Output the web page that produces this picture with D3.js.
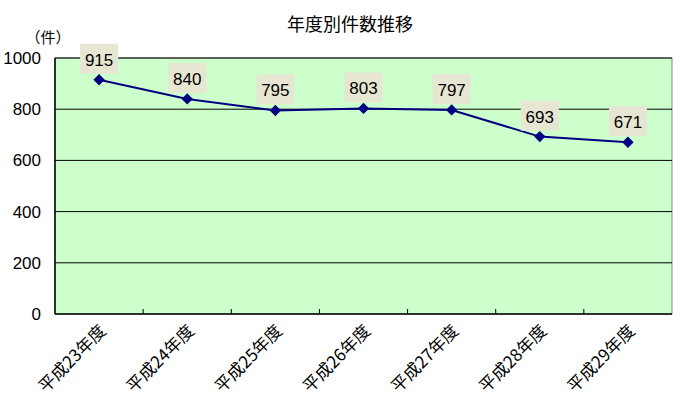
<!DOCTYPE html><html><head><meta charset="utf-8"><script src="https://cdn.jsdelivr.net/npm/d3@7"></script>
<style>body{margin:0;background:#fff}.cjk{font-family:"Noto Sans CJK JP",sans-serif}.num{font-family:"Liberation Sans",Arial,sans-serif}</style></head><body>
<svg id="c" width="700" height="416"></svg>
<script>
const categories=["平成23年度","平成24年度","平成25年度","平成26年度","平成27年度","平成28年度","平成29年度"];
const values=[915,840,795,803,797,693,671];
const yTicks=[0,200,400,600,800,1000];
const svg=d3.select("#c");
const L=55,R=672,T=58,B=314;
const x=d3.scaleBand().domain(categories).range([L,R]);
const y=d3.scaleLinear().domain([0,1000]).range([B,T]);
svg.append("rect").attr("x",L).attr("y",T).attr("width",R-L).attr("height",B-T).attr("fill","#ccffcc").attr("stroke","#888");
svg.selectAll(".g").data(yTicks.slice(1)).join("line").attr("x1",L).attr("x2",R).attr("y1",d=>y(d)).attr("y2",d=>y(d)).attr("stroke","#000").attr("stroke-width",1);
svg.append("line").attr("x1",L).attr("x2",L).attr("y1",T).attr("y2",B).attr("stroke","#000").attr("stroke-width",1.5);
svg.append("line").attr("x1",L).attr("x2",R).attr("y1",B).attr("y2",B).attr("stroke","#000").attr("stroke-width",1.5);
svg.selectAll(".yl").data(yTicks).join("text").attr("class","num").attr("x",L-14).attr("y",d=>y(d)+6).attr("text-anchor","end").attr("font-size",17).text(d=>d);
svg.selectAll(".xt").data(categories.slice(1)).join("line").attr("x1",d=>x(d)).attr("x2",d=>x(d)).attr("y1",B).attr("y2",B-5).attr("stroke","#000");
svg.selectAll(".xl").data(categories).join("text").attr("class","cjk").attr("font-size",17).attr("text-anchor","end")
 .attr("transform",d=>`translate(${x(d)+x.bandwidth()/2+8},${B+18}) rotate(-45)`).text(d=>d);
svg.append("text").attr("class","cjk").attr("x",48).attr("y",43).attr("text-anchor","middle").attr("font-size",15).text("（件）");
svg.append("text").attr("class","cjk").attr("x",350).attr("y",31).attr("text-anchor","middle").attr("font-size",18).text("年度別件数推移");
const cx=d=>x(d)+x.bandwidth()/2;
svg.append("path").datum(values).attr("fill","none").attr("stroke","#000080").attr("stroke-width",2)
 .attr("d",d3.line().x((v,i)=>cx(categories[i])).y(v=>y(v)));
svg.selectAll(".m").data(values).join("rect").attr("x",-4).attr("y",-4).attr("width",8).attr("height",8).attr("fill","#000080")
 .attr("transform",(v,i)=>`translate(${cx(categories[i])},${y(v)}) rotate(45)`);
const lg=svg.selectAll(".lb").data(values).join("g").attr("transform",(v,i)=>`translate(${cx(categories[i])},${y(v)-20})`);
lg.append("rect").attr("x",-19).attr("y",-16).attr("width",38).attr("height",30).attr("fill","#e6e6d2");
lg.append("text").attr("class","num").attr("y",6).attr("text-anchor","middle").attr("font-size",17).text(v=>v);
</script></body></html>
